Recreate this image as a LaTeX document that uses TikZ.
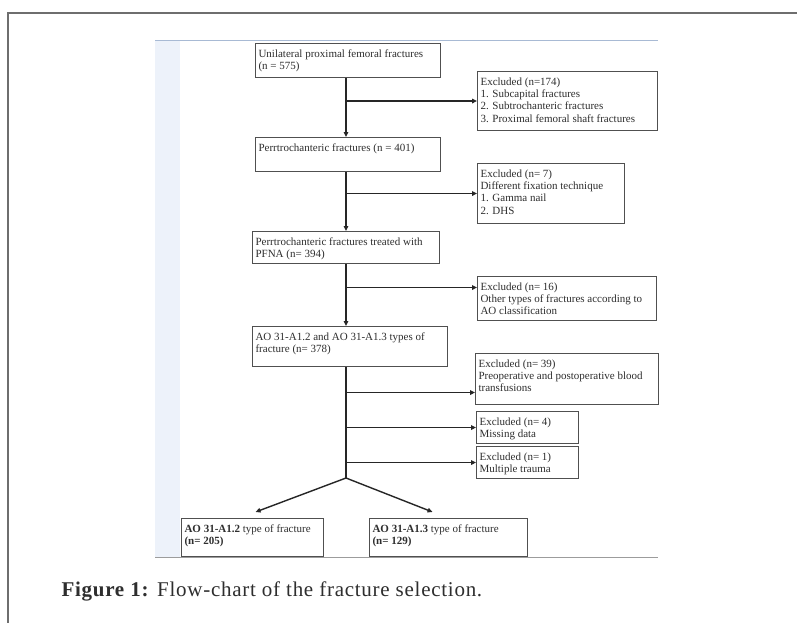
\documentclass[tikz,border=0pt]{standalone}
\usepackage{fontspec}
\setmainfont{Liberation Serif}
\usetikzlibrary{arrows.meta,calc}
\definecolor{txt}{HTML}{2E2E2E}
\definecolor{boxline}{HTML}{505050}
\definecolor{frameline}{HTML}{6E6E6E}
\definecolor{band}{HTML}{EDF2FA}
\definecolor{bandline}{HTML}{A8BAD4}
\definecolor{botline}{HTML}{9C9C9C}
\newcommand{\bx}[3]{\parbox[c][\dimexpr#2pt-7pt\relax][t]{\dimexpr#1pt-6pt\relax}{\vspace*{2.5pt}\raggedright #3}}
\begin{document}
\begin{tikzpicture}[x=1pt,y=-1pt,
  box/.style={draw=boxline, line width=1.1pt, inner xsep=3pt, inner ysep=3.5pt, anchor=north west, text=txt, font=\fontsize{11}{12.3}\selectfont},
  arr/.style={-{Triangle[length=5pt,width=4.5pt]}, line width=1.4pt, draw=black!85},
  ln/.style={line width=1.4pt, draw=black!85}]
\useasboundingbox (0,0) rectangle (797,623);
\fill[white] (0,0) rectangle (797,623);
% outer frame
\draw[frameline, line width=1.4pt] (8,623) -- (8,13) -- (797,13);
% image area
\fill[band] (155,41) rectangle (180,557);
\draw[bandline, line width=1pt] (155,41) -- (658,41);
\draw[botline, line width=1pt] (155,557) -- (658,557);
% boxes
\node[box] (b1) at (255,43) {\bx{185}{34}{Unilateral proximal femoral fractures\\(n = 575)}};
\node[box] (e1) at (477,71) {\bx{180}{59}{Excluded (n=174)\\1. Subcapital fractures\\2. Subtrochanteric fractures\\3. Proximal femoral shaft fractures}};
\node[box] (b2) at (255,137) {\bx{185}{34}{Perrtrochanteric fractures (n = 401)}};
\node[box] (e2) at (477,163) {\bx{147}{60}{Excluded (n= 7)\\Different fixation technique\\1. Gamma nail\\2. DHS}};
\node[box] (b3) at (252,231) {\bx{187}{32}{Perrtrochanteric fractures treated with\\PFNA (n= 394)}};
\node[box] (e3) at (477,276) {\bx{179}{44}{Excluded (n= 16)\\Other types of fractures according to\\AO classification}};
\node[box] (b4) at (252,326) {\bx{195}{40}{AO 31-A1.2 and AO 31-A1.3 types of\\fracture (n= 378)}};
\node[box] (e4) at (475,353) {\bx{183}{51}{Excluded (n= 39)\\Preoperative and postoperative blood\\transfusions}};
\node[box] (e5) at (476,411) {\bx{102}{32}{Excluded (n= 4)\\Missing data}};
\node[box] (e6) at (476,446) {\bx{102}{32}{Excluded (n= 1)\\Multiple trauma}};
\node[box] (b5) at (181,518) {\bx{142}{38}{\textbf{AO 31-A1.2} type of fracture\\\textbf{(n= 205)}}};
\node[box] (b6) at (369,518) {\bx{158}{38}{\textbf{AO 31-A1.3} type of fracture\\\textbf{(n= 129)}}};
% spine
\coordinate (sp) at (346,0);
\coordinate (apex) at (346,478);
\coordinate (e3in) at ([yshift=11pt]e3.west);
\coordinate (e4in) at ([yshift=-13.5pt]e4.west);
\coordinate (b5in) at ([xshift=3pt,yshift=6pt]b5.north);
\coordinate (b6in) at ([xshift=-16pt,yshift=6pt]b6.north);
\draw[arr] (b1.south -| sp) -- (b2.north -| sp);
\draw[arr] (b2.south -| sp) -- (b3.north -| sp);
\draw[arr] (b3.south -| sp) -- (b4.north -| sp);
\draw[ln] (b4.south -| sp) -- (apex);
\draw[arr] (sp |- e1.west) -- (e1.west);
\draw[arr] (sp |- e2.west) -- (e2.west);
\draw[arr] (sp |- e3in) -- (e3in);
\draw[arr] (sp |- e4in) -- (e4in);
\draw[arr] (sp |- e5.west) -- (e5.west);
\draw[arr] (sp |- e6.west) -- (e6.west);
\draw[arr] (apex) -- (b5in);
\draw[arr] (apex) -- (b6in);
% caption
\node[anchor=base west, font=\fontsize{21}{25}\selectfont\addfontfeatures{LetterSpace=3.5}, text=txt] (cap) at (58,596) {\textbf{Figure 1:} Flow-chart of the fracture selection.};
\end{tikzpicture}
\end{document}
